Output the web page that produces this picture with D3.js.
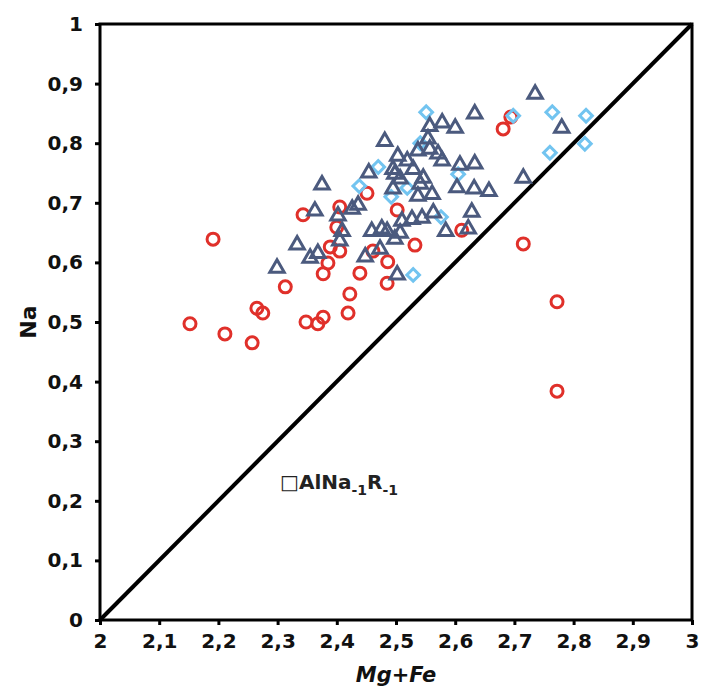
<!DOCTYPE html>
<html>
<head>
<meta charset="utf-8">
<script src="https://cdn.jsdelivr.net/npm/d3@7"></script>
<style>
  html, body { margin: 0; padding: 0; background: #fff; }
  svg { display: block; }
  text { font-family: "DejaVu Sans", "Liberation Sans", sans-serif; }
</style>
</head>
<body>
<svg id="chart" width="701" height="692"></svg>
<script>
// Sample groups: [Mg+Fe, Na]
const circleGroup = [
  [2.152, 0.497], [2.191, 0.639], [2.211, 0.480], [2.257, 0.465], [2.265, 0.523],
  [2.275, 0.515], [2.313, 0.559], [2.343, 0.680], [2.348, 0.500], [2.368, 0.497],
  [2.377, 0.508], [2.377, 0.581], [2.385, 0.599], [2.389, 0.626], [2.400, 0.659],
  [2.405, 0.693], [2.405, 0.619], [2.419, 0.515], [2.422, 0.547], [2.439, 0.582],
  [2.451, 0.716], [2.461, 0.619], [2.486, 0.601], [2.485, 0.565], [2.502, 0.688],
  [2.532, 0.629], [2.611, 0.654], [2.681, 0.824], [2.694, 0.844], [2.715, 0.631],
  [2.772, 0.534], [2.772, 0.384]
];

const diamondGroup = [
  [2.438, 0.728], [2.470, 0.760], [2.492, 0.710], [2.519, 0.725], [2.541, 0.800],
  [2.551, 0.852], [2.576, 0.676], [2.605, 0.748], [2.529, 0.579], [2.698, 0.846],
  [2.764, 0.852], [2.821, 0.846], [2.760, 0.784], [2.819, 0.799]
];

const triangleGroup = [
  [2.299, 0.592], [2.333, 0.631], [2.355, 0.609], [2.368, 0.617], [2.363, 0.688],
  [2.375, 0.732], [2.402, 0.680], [2.426, 0.691], [2.436, 0.698], [2.409, 0.654],
  [2.405, 0.638], [2.448, 0.611], [2.454, 0.752], [2.459, 0.654], [2.476, 0.658],
  [2.485, 0.654], [2.473, 0.624], [2.498, 0.641], [2.502, 0.581], [2.481, 0.805],
  [2.495, 0.758], [2.503, 0.780], [2.507, 0.742], [2.495, 0.725], [2.519, 0.772],
  [2.529, 0.758], [2.537, 0.789], [2.541, 0.733], [2.537, 0.713], [2.554, 0.809],
  [2.557, 0.830], [2.578, 0.836], [2.600, 0.827], [2.557, 0.792], [2.571, 0.784],
  [2.578, 0.772], [2.608, 0.765], [2.633, 0.767], [2.561, 0.716], [2.603, 0.727],
  [2.632, 0.725], [2.657, 0.721], [2.628, 0.686], [2.563, 0.685], [2.544, 0.676],
  [2.527, 0.674], [2.510, 0.671], [2.507, 0.651], [2.584, 0.654], [2.622, 0.658],
  [2.633, 0.851], [2.735, 0.884], [2.780, 0.827], [2.715, 0.743], [2.498, 0.750],
  [2.546, 0.743]
];

const xTicks = [2, 2.1, 2.2, 2.3, 2.4, 2.5, 2.6, 2.7, 2.8, 2.9, 3];
const yTicks = [0, 0.1, 0.2, 0.3, 0.4, 0.5, 0.6, 0.7, 0.8, 0.9, 1];
// Reference line Na = (Mg+Fe) - 2
const refLine = [[2, 0], [3, 1]];

const svg = d3.select("#chart");
const m = { left: 100, right: 692, top: 24, bottom: 620 };

const x = d3.scaleLinear().domain([2, 3]).range([m.left, m.right]);
const y = d3.scaleLinear().domain([0, 1]).range([m.bottom, m.top]);

const locale = d3.formatLocale({ decimal: ",", thousands: ".", grouping: [3], currency: ["", ""] });
const fmt = v => locale.format("~g")(+v.toFixed(1));

// Axes
const yAxis = d3.axisLeft(y).tickValues(yTicks).tickFormat(fmt).tickSizeInner(5).tickSizeOuter(0).tickPadding(12);
const xAxis = d3.axisBottom(x).tickValues(xTicks).tickFormat(fmt).tickSizeInner(5).tickSizeOuter(0).tickPadding(9);

const gy = svg.append("g").attr("transform", `translate(${m.left},0)`).call(yAxis);
const gx = svg.append("g").attr("transform", `translate(0,${m.bottom})`).call(xAxis);
[gx, gy].forEach(g => {
  g.select(".domain").remove();
  g.selectAll(".tick line").attr("stroke", "#000").attr("stroke-width", 3);
  g.selectAll(".tick text")
    .attr("fill", "#111")
    .style("font-size", "20px")
    .style("font-weight", "bold");
});

// Frame
svg.append("rect")
  .attr("x", m.left).attr("y", m.top)
  .attr("width", m.right - m.left).attr("height", m.bottom - m.top)
  .attr("fill", "none").attr("stroke", "#000").attr("stroke-width", 3);

// Diagonal reference line
svg.append("path")
  .datum(refLine)
  .attr("d", d3.line().x(d => x(d[0])).y(d => y(d[1])))
  .attr("stroke", "#000").attr("stroke-width", 4).attr("fill", "none");

// Markers
const plot = svg.append("g");

plot.selectAll("circle.c")
  .data(circleGroup).join("circle")
  .attr("class", "c")
  .attr("cx", d => x(d[0])).attr("cy", d => y(d[1]))
  .attr("r", 6)
  .attr("fill", "none").attr("stroke", "#e0302a").attr("stroke-width", 3);

const diamond = d3.symbol().type(d3.symbolSquare).size(80);
plot.selectAll("path.d")
  .data(diamondGroup).join("path")
  .attr("class", "d")
  .attr("d", diamond)
  .attr("transform", d => `translate(${x(d[0])},${y(d[1])}) rotate(45)`)
  .attr("fill", "none").attr("stroke", "#72c4f0").attr("stroke-width", 3);

const tri = d3.symbol().type(d3.symbolTriangle).size(90);
plot.selectAll("path.t")
  .data(triangleGroup).join("path")
  .attr("class", "t")
  .attr("d", tri)
  .attr("transform", d => `translate(${x(d[0])},${y(d[1]) + 1})`)
  .attr("fill", "none").attr("stroke", "#4b5a7e").attr("stroke-width", 3)
  .attr("stroke-linejoin", "miter");

// Axis titles
svg.append("text")
  .attr("x", (m.left + m.right) / 2).attr("y", 682)
  .attr("text-anchor", "middle")
  .style("font-size", "21px").style("font-weight", "bold").style("font-style", "italic")
  .attr("fill", "#111")
  .text("Mg+Fe");

svg.append("text")
  .attr("transform", `translate(36,${(m.top + m.bottom) / 2}) rotate(-90)`)
  .attr("text-anchor", "middle")
  .style("font-size", "22px").style("font-weight", "bold")
  .attr("fill", "#111")
  .text("Na");

// Exchange vector label
const lab = svg.append("text")
  .attr("x", 280).attr("y", 489)
  .style("font-size", "20px").style("font-weight", "bold")
  .attr("fill", "#222");
lab.append("tspan").text("□AlNa");
lab.append("tspan").attr("dy", 6).style("font-size", "14px").text("-1");
lab.append("tspan").attr("dy", -6).text("R");
lab.append("tspan").attr("dy", 6).style("font-size", "14px").text("-1");
</script>
</body>
</html>
